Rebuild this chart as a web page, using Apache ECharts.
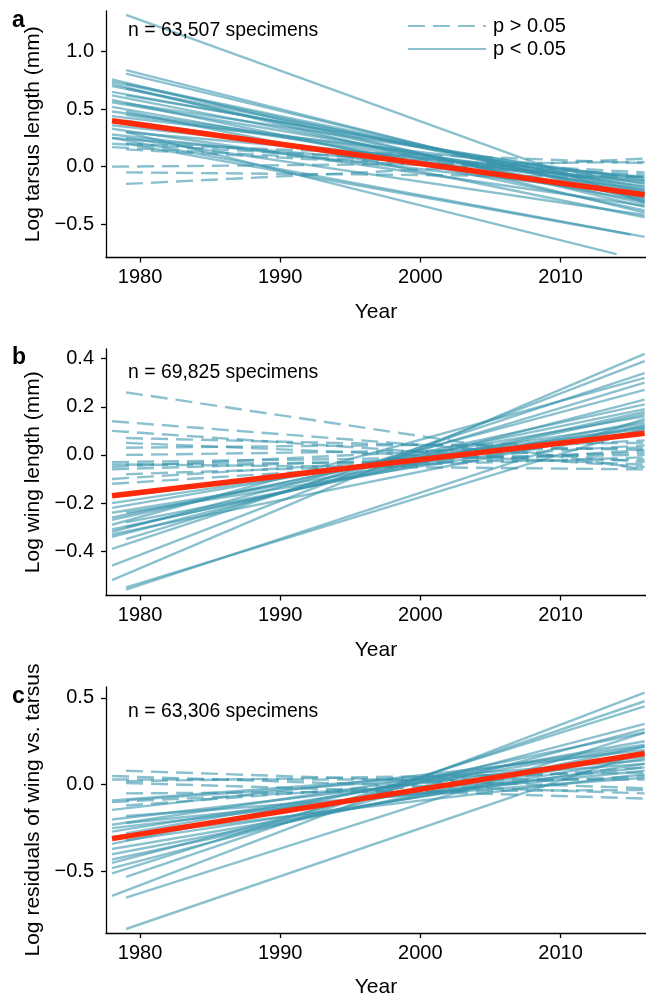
<!DOCTYPE html>
<html>
<head>
<meta charset="utf-8">
<script src="https://cdn.jsdelivr.net/npm/echarts@6/dist/echarts.min.js"></script>
<style>
  html, body { margin: 0; padding: 0; background: #fff; }
  #chart { width: 646px; height: 999px; }
</style>
</head>
<body>
<div id="chart"></div>
<script>
// ---------- data ----------
const xTicks = [1980, 1990, 2000, 2010];
const tarsusTicks = [-0.5, 0, 0.5, 1.0];
const wingTicks = [-0.4, -0.2, 0, 0.2, 0.4];
const residTicks = [-0.5, 0, 0.5];

// Panel a: Log tarsus length
const tarsusFirstYear = [1979,1979,1979,1978,1978,1978,1978,1979,1979,1978,1978,1979,1978,1978,1979,1978,1978,1979,1979,1978,1979,1978,1978,1979,1979,1978,1979,1978,1979,1978, 1978,1979,1979,1978,1979,1979,1978];
const tarsusStart     = [1.32,0.84,0.81,0.76,0.74,0.72,0.70,0.72,0.68,0.65,0.62,0.62,0.58,0.56,0.55,0.52,0.48,0.48,0.45,0.44,0.40,0.36,0.33,0.30,0.30,0.25,0.20,0.25,0.25,0.28, 0.00,-0.05,-0.15,0.17,0.15,0.20,0.20];
const tarsusLastYear  = [2016,2016,2016,2016,2016,2016,2016,2016,2016,2016,2016,2016,2016,2016,2016,2016,2016,2016,2016,2016,2016,2016,2016,2014,2016,2016,2015,2016,2016,2016, 2016,2016,2016,2016,2016,2016,2016];
const tarsusEnd       = [-0.31,-0.30,-0.28,-0.35,-0.25,-0.40,-0.20,-0.22,-0.32,-0.18,-0.28,-0.15,-0.38,-0.22,-0.12,-0.30,-0.17,-0.44,-0.20,-0.10,-0.26,-0.14,-0.34,-0.76,-0.09,-0.61,-0.59,-0.12,-0.42,-0.24, 0.04,-0.09,0.07,-0.07,-0.09,0.03,-0.05];
const tarsusSignif    = [1,1,1,1,1,1,1,1,1,1,1,1,1,1,1,1,1,1,1,1,1,1,1,1,1,1,1,1,1,1, 0,0,0,0,0,0,0];

// Panel b: Log wing length
const wingFirstYear = [1979,1978,1978,1979,1979,1979,1979,1978,1978,1978,1978,1979,1978,1978,1979, 1978,1979,1978,1978,1978,1979,1978,1979,1978,1978,1978,1978,1979,1979,1978,1978,1978,1979,1979,1978];
const wingStart     = [0.26,0.14,0.10,0.07,0.05,0.03,0.00,-0.03,-0.04,-0.05,-0.06,-0.08,-0.10,-0.12,-0.04, -0.20,-0.17,-0.22,-0.24,-0.26,-0.24,-0.27,-0.28,-0.31,-0.32,-0.33,-0.34,-0.35,-0.30,-0.39,-0.46,-0.52,-0.55,-0.56,-0.29];
const wingLastYear  = [2016,2016,2016,2016,2016,2016,2016,2016,2016,2016,2016,2016,2016,2016,2016, 2016,2016,2016,2016,2016,2016,2016,2016,2016,2016,2016,2016,2016,2016,2016,2016,2016,2016,2016,2016];
const wingEnd       = [-0.06,-0.03,-0.05,0.02,-0.04,0.05,0.03,0.00,-0.02,0.06,0.01,-0.01,0.04,0.02,-0.06, 0.13,0.11,0.16,0.12,0.19,0.10,0.21,0.14,0.17,0.27,0.12,0.23,0.30,0.18,0.34,0.39,0.42,0.11,0.15,0.32];
const wingSignif    = [0,0,0,0,0,0,0,0,0,0,0,0,0,0,0, 1,1,1,1,1,1,1,1,1,1,1,1,1,1,1,1,1,1,1,1];

// Panel c: Log residuals of wing vs. tarsus
const residFirstYear = [1979,1978,1978,1979,1979,1979,1978,1979, 1978,1979,1978,1978,1978,1978,1979,1978,1978,1978,1979,1978,1978,1978,1979,1978,1979,1979,1978,1979,1978,1978,1979];
const residStart     = [0.08,0.05,0.03,0.01,0.02,-0.05,-0.10,-0.12, -0.09,-0.09,-0.145,-0.20,-0.23,-0.25,-0.22,-0.27,-0.34,-0.37,-0.32,-0.45,-0.48,-0.51,-0.53,-0.64,-0.65,-0.83,-0.40,-0.28,-0.30,-0.43,-0.18];
const residLastYear  = [2016,2016,2016,2016,2016,2016,2016,2016, 2016,2016,2016,2016,2016,2016,2016,2016,2016,2016,2016,2016,2016,2016,2016,2016,2016,2016,2016,2016,2016,2016,2016];
const residEnd       = [-0.02,-0.05,0.03,-0.08,0.07,-0.03,0.05,0.10, 0.14,0.12,0.20,0.16,0.23,0.10,0.08,0.22,0.30,0.15,0.12,0.35,0.32,0.45,0.48,0.53,0.30,0.19,0.18,0.25,0.06,0.22,0.04];
const residSignif    = [0,0,0,0,0,0,0,0, 1,1,1,1,1,1,1,1,1,1,1,1,1,1,1,1,1,1,1,1,1,1,1];

// Overall mean trends (red)
const meanYears = [1978, 2016];
const meanTarsus = [0.40, -0.245];
const meanWing = [-0.17, 0.09];
const meanResid = [-0.31, 0.18];

const panelLetters = ['a', 'b', 'c'];
const panelNotes = ['n = 63,507 specimens', 'n = 69,825 specimens', 'n = 63,306 specimens'];
const yTitles = ['Log tarsus length (mm)', 'Log wing length (mm)', 'Log residuals of wing vs. tarsus'];
const legendLabels = ['p > 0.05', 'p < 0.05'];

// ---------- chart ----------
const FONT = 'Liberation Sans, Arial, Helvetica, sans-serif';
const LINE_COLOR = 'rgba(55,148,172,0.58)';
const RED = '#ff2a0a';

const panels = [
  { first: tarsusFirstYear, start: tarsusStart, last: tarsusLastYear, end: tarsusEnd, sig: tarsusSignif, mean: meanTarsus, ticks: tarsusTicks, min: -0.79, max: 1.354, top: 11 },
  { first: wingFirstYear, start: wingStart, last: wingLastYear, end: wingEnd, sig: wingSignif, mean: meanWing, ticks: wingTicks, min: -0.584, max: 0.44, top: 349 },
  { first: residFirstYear, start: residStart, last: residLastYear, end: residEnd, sig: residSignif, mean: meanResid, ticks: residTicks, min: -0.853, max: 0.562, top: 687 }
];
const GRID_H = 246.5;

function fmt(v) {
  const s = Math.abs(v).toFixed(1);
  return (v < 0 ? '\u2212' : '') + s;
}

const grids = [], xAxes = [], yAxes = [], series = [], graphics = [];
panels.forEach((p, k) => {
  grids.push({ left: 106, width: 540, top: p.top, height: GRID_H, containLabel: false });
  xAxes.push({
    type: 'value', gridIndex: k, min: 1977.57, max: 2016.1,
    name: 'Year', nameLocation: 'middle', nameGap: 44,
    nameTextStyle: { fontSize: 21, color: '#000', fontFamily: FONT },
    axisLine: { onZero: false, lineStyle: { color: '#000', width: 1.3 } },
    axisTick: { show: true, inside: false, length: 5, customValues: xTicks, lineStyle: { color: '#000', width: 1.3 } },
    axisLabel: { customValues: xTicks, fontSize: 20, color: '#000', fontFamily: FONT, margin: 10, formatter: v => String(v) },
    splitLine: { show: false }
  });
  yAxes.push({
    type: 'value', gridIndex: k, min: p.min, max: p.max,
    name: yTitles[k], nameLocation: 'middle', nameGap: 62,
    nameTextStyle: { fontSize: 21, color: '#000', fontFamily: FONT },
    axisLine: { show: true, onZero: false, lineStyle: { color: '#000', width: 1.3 } },
    axisTick: { show: true, inside: false, length: 5, customValues: p.ticks, lineStyle: { color: '#000', width: 1.3 } },
    axisLabel: { customValues: p.ticks, fontSize: 20, color: '#000', fontFamily: FONT, margin: 12, formatter: v => fmt(v) },
    splitLine: { show: false }
  });
  for (let i = 0; i < p.start.length; i++) {
    const sig = p.sig[i] === 1;
    series.push({
      type: 'line', name: sig ? legendLabels[1] : legendLabels[0],
      xAxisIndex: k, yAxisIndex: k,
      data: [[p.first[i], p.start[i]], [p.last[i], p.end[i]]],
      symbol: 'none', silent: true, animation: false, z: 2,
      lineStyle: { color: LINE_COLOR, width: 2.4, type: sig ? 'solid' : [17, 8] },
      itemStyle: { color: LINE_COLOR }
    });
  }
  series.push({
    type: 'line', name: 'mean', xAxisIndex: k, yAxisIndex: k,
    data: [[meanYears[0], p.mean[0]], [meanYears[1], p.mean[1]]],
    symbol: 'none', silent: true, animation: false, z: 5,
    lineStyle: { color: RED, width: 5.5 }
  });
});

const letterY = [21, 358, 697];
const noteY = [31, 373, 712];
panelLetters.forEach((t, k) => {
  graphics.push({ type: 'text', x: 12, y: letterY[k], style: { text: t, font: 'bold 23px ' + FONT, fill: '#000', verticalAlign: 'middle' }, z: 10 });
  graphics.push({ type: 'text', x: 128, y: noteY[k], style: { text: panelNotes[k], font: '19.4px ' + FONT, fill: '#000', verticalAlign: 'middle' }, z: 10 });
});

const chart = echarts.init(document.getElementById('chart'), null, { renderer: 'canvas' });
chart.setOption({
  backgroundColor: '#fff',
  animation: false,
  grid: grids, xAxis: xAxes, yAxis: yAxes, series: series,
  legend: {
    data: legendLabels, orient: 'vertical', left: 402, top: 11,
    itemWidth: 78, itemHeight: 14, itemGap: 3, selectedMode: false,
    itemStyle: { color: 'rgba(0,0,0,0)', borderWidth: 0, opacity: 0 },
    textStyle: { fontSize: 20, color: '#000', fontFamily: FONT, lineHeight: 20, padding: [0, 0, 0, 2] }
  },
  graphic: graphics
});
</script>
</body>
</html>
